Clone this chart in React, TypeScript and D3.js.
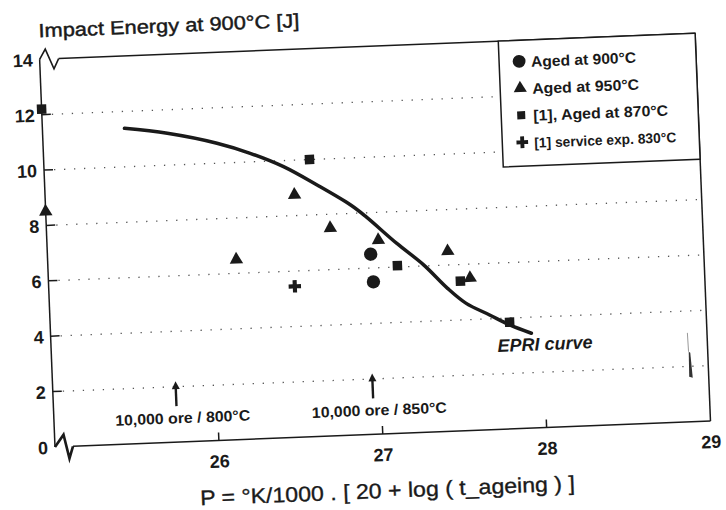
import * as d3 from "d3";

// tick values
const xTicks = [26, 27, 28, 29];
const yTicks = [0, 2, 4, 6, 8, 10, 12, 14];
const gridValues = [2, 4, 6, 8, 10, 12];

// series: [P, impact energy]
const aged900 = [
  [26.97, 6.5],
  [26.98, 5.5],
];
const aged950 = [
  [25.0, 8.5],
  [26.15, 6.5],
  [26.52, 8.75],
  [26.73, 7.5],
  [27.02, 7.0],
  [27.44, 6.5],
  [27.57, 5.5],
];
const aged870 = [
  [25.0, 12.2],
  [26.62, 10.0],
  [27.13, 6.05],
  [27.51, 5.4],
  [27.8, 3.85],
];
const service830 = [[26.5, 5.45]];

const epriCurve = [
  [25.5, 11.39],
  [25.76, 11.15],
  [26.06, 10.72],
  [26.26, 10.31],
  [26.46, 9.78],
  [26.66, 9.07],
  [26.86, 8.3],
  [26.95, 7.86],
  [27.13, 6.86],
  [27.29, 6.04],
  [27.43, 5.16],
  [27.54, 4.59],
  [27.68, 4.14],
  [27.8, 3.75],
  [27.93, 3.42],
];

const markers = [
  { label: "10,000 ore / 800°C", x: 25.75 },
  { label: "10,000 ore / 850°C", x: 26.95 },
];
const arrowFrom = 1.3;
const arrowTo = 2.2;
const markerLabelY = 0.68;

const legendItems = [
  { label: "Aged at 900°C", shape: d3.symbolCircle, size: 130, font: 15, len: 105 },
  { label: "Aged at 950°C", shape: d3.symbolTriangle, size: 75, font: 15, len: 107 },
  { label: "[1], Aged at 870°C", shape: d3.symbolSquare, size: 64, font: 15, len: 135 },
  { label: "[1] service exp. 830°C", shape: d3.symbolCross, size: 75, font: 14, len: 142 },
];

const W = 656;
const H = 388;
const left = 55;
const top = 59;
const tilt = -2.27; // the scan is slightly rotated
const font = "'Liberation Sans', Arial, sans-serif";
const ink = "#1a1a1a";

export default function App() {
  const x = d3.scaleLinear().domain([25, 29]).range([0, W]);
  const y = d3.scaleLinear().domain([0, 14]).range([H, 0]);

  const line = d3
    .line<number[]>()
    .x((d) => x(d[0]))
    .y((d) => y(d[1]))
    .curve(d3.curveCatmullRom.alpha(0.5));

  const sym = (shape: d3.SymbolType, size: number) => d3.symbol(shape, size)() as string;

  const legendLeft = 459;
  const legendH = 126;
  const legendX = (v: number) => (y(v) < legendH ? legendLeft : W);

  const series = [
    { data: aged900, shape: d3.symbolCircle, size: 140 },
    { data: aged950, shape: d3.symbolTriangle, size: 78 },
    { data: aged870, shape: d3.symbolSquare, size: 90 },
    { data: service830, shape: d3.symbolCross, size: 85 },
  ];

  return (
    <svg
      width={726}
      height={510}
      style={{ position: "absolute", left: 0, top: 0, background: "#fff" }}
      fontFamily={font}
    >
      <rect width={726} height={510} fill="#fff" />
      <g transform={`rotate(${tilt}, ${left}, ${top + H}) translate(${left}, ${top})`}>
        {/* dotted grid */}
        {gridValues.map((v) => (
          <line
            key={v}
            x1={10}
            x2={legendX(v)}
            y1={y(v)}
            y2={y(v)}
            stroke="#555"
            strokeWidth={1.3}
            strokeDasharray="1.3 8.7"
          />
        ))}

        {/* frame */}
        <g stroke={ink} strokeWidth={1.5} fill="none">
          <line x1={0} y1={0} x2={0} y2={H} />
          <line x1={19} y1={0} x2={W} y2={0} />
          <line x1={W} y1={0} x2={W} y2={H} />
          <line x1={18} y1={H} x2={W} y2={H} />
          <path d="M0,0 L6,-10 L14,10 L19,0" strokeWidth={1.6} />
          <path d={`M0,${H} L9,${H - 12} L14,${H + 12} L18,${H}`} strokeWidth={2.6} />
        </g>

        {/* ticks */}
        {gridValues.map((v) => (
          <line key={v} x1={0} x2={9} y1={y(v)} y2={y(v)} stroke={ink} strokeWidth={1.5} />
        ))}
        {xTicks.slice(0, 3).map((v) => (
          <line key={v} x1={x(v)} x2={x(v)} y1={H} y2={H - 8} stroke={ink} strokeWidth={1.5} />
        ))}

        {/* tick labels */}
        {yTicks.map((v) => (
          <text
            key={v}
            x={-7}
            y={y(v)}
            dy="0.38em"
            textAnchor="end"
            fontSize={18}
            fontWeight="bold"
            fill={ink}
          >
            {v}
          </text>
        ))}
        {xTicks.map((v) => (
          <text
            key={v}
            x={x(v)}
            y={H + 27}
            textAnchor="middle"
            fontSize={18}
            fontWeight="bold"
            fill={ink}
          >
            {v}
          </text>
        ))}

        {/* titles */}
        <text
          x={0}
          y={-22}
          fontSize={19}
          fill={ink}
          stroke={ink}
          strokeWidth={0.45}
          textLength={261}
          lengthAdjust="spacingAndGlyphs"
        >
          Impact Energy at 900°C [J]
        </text>
        <text
          x={143}
          y={H + 64}
          fontSize={21}
          fill={ink}
          stroke={ink}
          strokeWidth={0.35}
          textLength={375}
          lengthAdjust="spacingAndGlyphs"
        >
          P =  °K/1000 . [ 20 + log ( t_ageing ) ]
        </text>

        {/* EPRI curve */}
        <path d={line(epriCurve) as string} fill="none" stroke={ink} strokeWidth={3.5} strokeLinecap="round" />
        <text
          x={x(28.01)}
          y={y(3.03)}
          dy="0.36em"
          textAnchor="middle"
          fontSize={18}
          fontStyle="italic"
          fontWeight="bold"
          fill={ink}
        >
          EPRI curve
        </text>

        {/* data points */}
        {series.map((s, i) =>
          s.data.map((d, j) => (
            <path
              key={`${i}-${j}`}
              d={sym(s.shape, s.size)}
              transform={`translate(${x(d[0])}, ${y(d[1])})`}
              fill={ink}
            />
          ))
        )}

        {/* time markers */}
        {markers.map((m) => (
          <g key={m.label}>
            <line
              x1={x(m.x)}
              x2={x(m.x)}
              y1={y(arrowFrom)}
              y2={y(arrowTo) + 6}
              stroke={ink}
              strokeWidth={2.4}
            />
            <path d={`M${x(m.x)},${y(arrowTo)} l-4,8 l8,0 z`} fill={ink} />
            <text
              x={x(m.x + 0.035)}
              y={y(markerLabelY)}
              textAnchor="middle"
              fontSize={15}
              fontWeight="bold"
              fill={ink}
              textLength={135}
              lengthAdjust="spacingAndGlyphs"
            >
              {m.label}
            </text>
          </g>
        ))}

        {/* scan mark near right edge */}
        <path d="M637,318 L638.5,319 L640,344 L636.5,343 Z" fill="#333" />
        <line x1={636.8} y1={318} x2={636.4} y2={299} stroke="#999" strokeWidth={1} />

        {/* legend */}
        <g transform={`translate(${legendLeft}, 0)`}>
          <rect width={W - legendLeft} height={legendH} fill="#fff" stroke={ink} strokeWidth={1.5} />
          {legendItems.map((it, i) => (
            <g key={it.label} transform={`translate(0, ${21 + i * 27})`}>
              <path d={sym(it.shape, it.size)} transform="translate(20, 0)" fill={ink} />
              <text
                x={32}
                y={6}
                fontSize={it.font}
                fontWeight="bold"
                fill={ink}
                textLength={it.len}
                lengthAdjust="spacingAndGlyphs"
              >
                {it.label}
              </text>
            </g>
          ))}
        </g>
      </g>
    </svg>
  );
}
